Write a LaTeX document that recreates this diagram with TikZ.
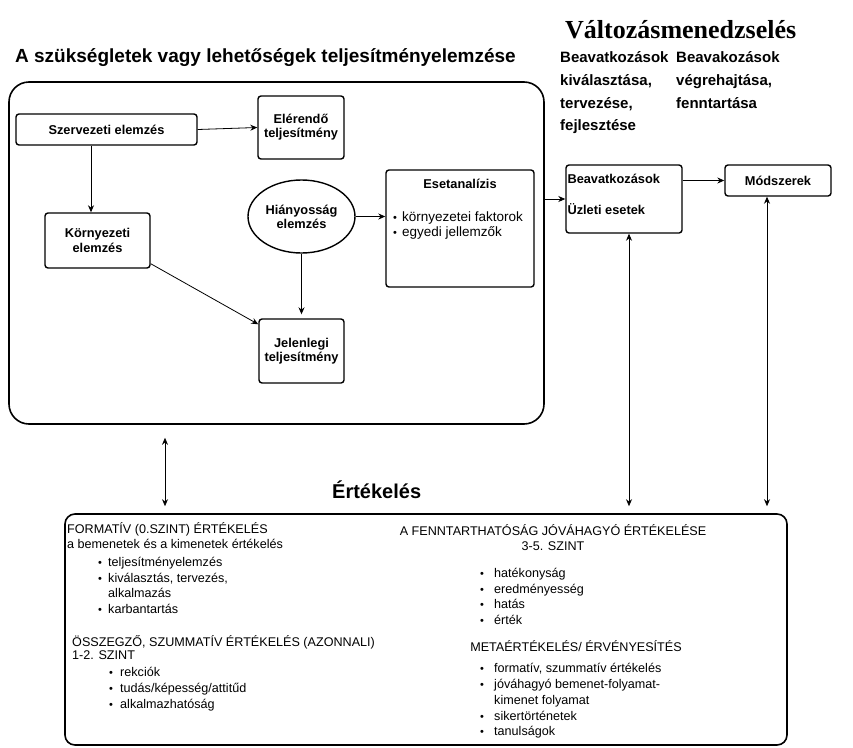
\documentclass[tikz,border=0pt]{standalone}
\usepackage{fontspec}
\setmainfont{Liberation Sans}
\newfontfamily\cimbetu{Liberation Serif}
\usetikzlibrary{arrows.meta,positioning,shapes.geometric}

\tikzset{
  doboz/.style={draw, line width=1.4pt, rounded corners=3pt, inner sep=0pt, align=center,
    font=\bfseries\fontsize{12.8}{14}\selectfont},
  nyil/.style={-{Stealth[length=7pt,width=6pt]}, line width=0.8pt},
  ketnyil/.style={{Stealth[length=7pt,width=6pt]}-{Stealth[length=7pt,width=6pt]}, line width=0.8pt},
  sor/.style={anchor=base west, inner sep=0pt, font=\fontsize{12.6}{15}\selectfont},
  kozep/.style={anchor=base, inner sep=0pt, font=\fontsize{12.6}{15}\selectfont},
  pont/.style={anchor=base west, inner sep=0pt, font=\fontsize{11}{11}\selectfont},
  fej/.style={anchor=base west, inner sep=0pt, font=\bfseries\fontsize{15}{17}\selectfont},
}

\begin{document}
\begin{tikzpicture}[x=1pt,y=-1pt]
\useasboundingbox (0,0) rectangle (853,747);

% headings
\node[anchor=base west, inner sep=0pt, font=\bfseries\fontsize{19}{22}\selectfont] (cim) at (15,62)
  {A szükségletek vagy lehetőségek teljesítményelemzése};
\node[anchor=base west, inner sep=0pt, font=\cimbetu\bfseries\fontsize{26}{30}\selectfont] (valt) at (565,38)
  {Változásmenedzselés};
\foreach \y/\t in {62/Beavatkozások, 85/{kiválasztása,}, 108/{tervezése,}, 130/fejlesztése}
  \node[fej] (ba\y) at (560,\y) {\t};
\foreach \y/\t in {62/Beavakozások, 85/{végrehajtása,}, 108/fenntartása}
  \node[fej] (bb\y) at (676,\y) {\t};

% needs analysis frame
\node[draw, line width=1.6pt, rounded corners=20pt, minimum width=535pt, minimum height=342pt] (nagy) at (276.5,253) {};

\node[doboz, minimum width=181pt, minimum height=31pt] (szerv) at (106.5,129.5) {Szervezeti elemzés};
\node[doboz, minimum width=86pt, minimum height=63pt] (elerendo) at (301,127.5) {Elérendő\\teljesítmény};
\node[doboz, minimum width=105pt, minimum height=55pt, font=\bfseries\fontsize{12.8}{15.5}\selectfont] (korny) at (97.5,240.5) {Környezeti\\elemzés};
\node[doboz, ellipse, rounded corners=0pt, minimum width=107pt, minimum height=73pt] (hiany) at (301.5,216.5) {Hiányosság\\elemzés};
\node[doboz, minimum width=85pt, minimum height=64pt] (jelen) at (301.5,351) {Jelenlegi\\teljesítmény};
\node[doboz, minimum width=148pt, minimum height=117pt] (eset) at (460,228.5) {};
\node[below=10pt of eset.north, inner sep=0pt, font=\bfseries\fontsize{12.8}{14}\selectfont] (esetcim) {Esetanalízis};
\foreach \y/\t in {221.5/környezetei faktorok, 236.5/egyedi jellemzők} {
  \node[pont] (ep\y) at (393,\y) {•};
  \node[sor, font=\fontsize{13.5}{15}\selectfont] (et\y) at (402,\y) {\t};
}

\draw[nyil] (szerv.east) -- (elerendo.west);
\draw[nyil] ([xshift=-15.5pt]szerv.south) -- ([xshift=-6.5pt]korny.north);
\draw[nyil] ([yshift=5pt]korny.south east) -- ([yshift=-6pt]jelen.north west);
\draw[nyil, shorten >=4pt] (hiany.south) -- (jelen.north);
\draw[nyil] (hiany.east) -- (hiany.east -| eset.west);

% interventions
\node[doboz, minimum width=116pt, minimum height=68pt] (beav) at (624,199) {};
\node[anchor=west, inner sep=0pt, font=\bfseries\fontsize{12.8}{14}\selectfont] (beav1) at ([xshift=2pt,yshift=20pt]beav.west) {Beavatkozások};
\node[anchor=west, inner sep=0pt, font=\bfseries\fontsize{12.8}{14}\selectfont] (beav2) at ([xshift=2pt,yshift=-10pt]beav.west) {Üzleti esetek};
\node[doboz, minimum width=106pt, minimum height=31pt] (modsz) at (778,180.5) {Módszerek};

\draw[nyil] (beav.west -| nagy.east) -- (beav.west);
\draw[nyil] (modsz.west -| beav.east) -- (modsz.west);

% evaluation
\node[anchor=base west, inner sep=0pt, font=\bfseries\fontsize{20}{24}\selectfont] (ert) at (332,498) {Értékelés};
\node[draw, line width=1.6pt, rounded corners=10pt, minimum width=722pt, minimum height=231pt] (also) at (426,629.5) {};

\draw[ketnyil, shorten <=13pt, shorten >=7pt] ([xshift=-111.5pt]nagy.south) -- ([xshift=-111.5pt]nagy.south |- also.north);
\draw[ketnyil, shorten >=7pt] ([xshift=5pt]beav.south) -- ([xshift=5pt]beav.south |- also.north);
\draw[ketnyil, shorten >=7pt] ([xshift=-11pt]modsz.south) -- ([xshift=-11pt]modsz.south |- also.north);

% left column
\node[sor] (f1) at (67,533.5) {FORMATÍV (0.SZINT) ÉRTÉKELÉS};
\node[sor] (f2) at (67,548) {a bemenetek és a kimenetek értékelés};
\foreach \y/\t in {566/teljesítményelemzés, 582/{kiválasztás, tervezés,}, 613/karbantartás} {
  \node[pont] (fp\y) at (98,\y) {•};
  \node[sor] (ft\y) at (108,\y) {\t};
}
\node[sor] (ft597) at (108,597) {alkalmazás};
\node[sor] (o1) at (72,646) {ÖSSZEGZŐ, SZUMMATÍV ÉRTÉKELÉS (AZONNALI)};
\node[sor] (o2) at (72,659) {1-2. SZINT};
\foreach \y/\t in {676/rekciók, 692/{tudás/képesség/attitűd}, 708/alkalmazhatóság} {
  \node[pont] (op\y) at (109,\y) {•};
  \node[sor] (ot\y) at (120,\y) {\t};
}

% right column
\node[kozep] (a1) at (553,535.5) {A FENNTARTHATÓSÁG JÓVÁHAGYÓ ÉRTÉKELÉSE};
\node[kozep] (a2) at (553,550.5) {3-5. SZINT};
\foreach \y/\t in {577/hatékonyság, 593/eredményesség, 608/hatás, 624/érték} {
  \node[pont] (ap\y) at (480,\y) {•};
  \node[sor] (at\y) at (494,\y) {\t};
}
\node[kozep] (m1) at (576,651.5) {METAÉRTÉKELÉS/ ÉRVÉNYESÍTÉS};
\foreach \y/\t in {672/{formatív, szummatív értékelés}, 688/jóváhagyó bemenet-folyamat-, 720/sikertörténetek, 735/tanulságok} {
  \node[pont] (mp\y) at (480,\y) {•};
  \node[sor] (mt\y) at (494,\y) {\t};
}
\node[sor] (mt704) at (494,704) {kimenet folyamat};
\end{tikzpicture}
\end{document}
